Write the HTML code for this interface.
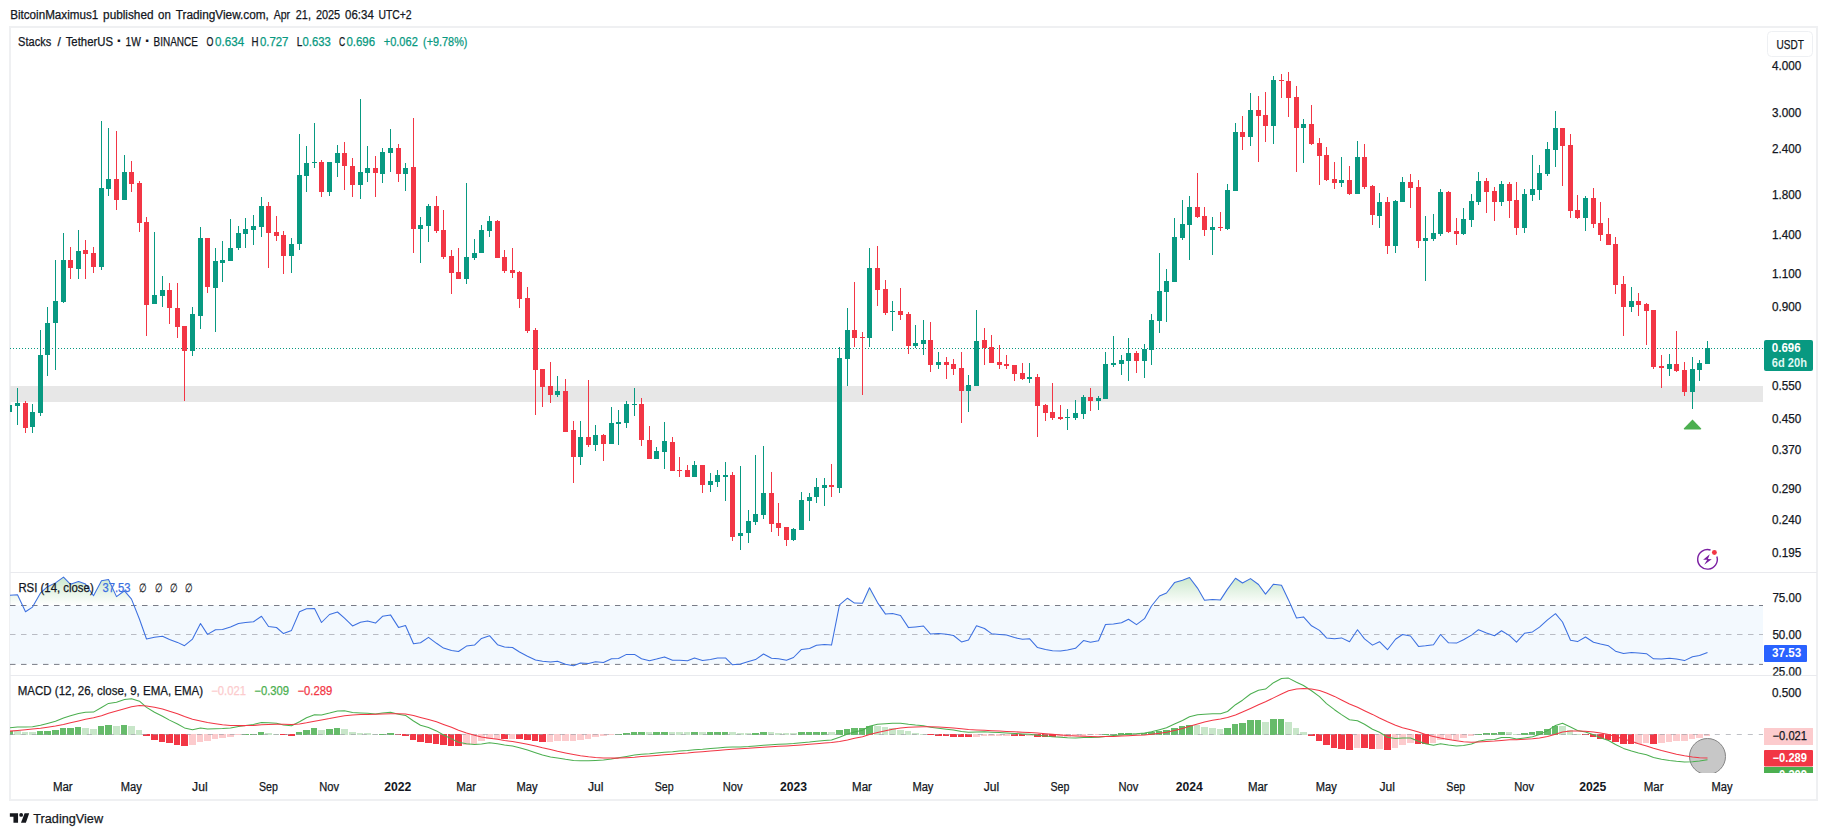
<!DOCTYPE html>
<html lang="en"><head><meta charset="utf-8"><title>STXUSDT chart</title>
<style>html,body{margin:0;padding:0;background:#fff}body{width:1827px;height:836px;overflow:hidden}</style></head>
<body>
<svg width="1827" height="836" viewBox="0 0 1827 836" style="display:block;font-family:'Liberation Sans', sans-serif">
<defs>
<linearGradient id="gob" gradientUnits="userSpaceOnUse" x1="0" y1="561.4" x2="0" y2="605.5"><stop offset="0" stop-color="#4caf50" stop-opacity="0.45"/><stop offset="1" stop-color="#4caf50" stop-opacity="0"/></linearGradient>
<linearGradient id="gos" gradientUnits="userSpaceOnUse" x1="0" y1="664.3" x2="0" y2="708.4"><stop offset="0" stop-color="#f23645" stop-opacity="0"/><stop offset="1" stop-color="#f23645" stop-opacity="0.55"/></linearGradient>
<clipPath id="cpMain"><rect x="10" y="28" width="1754" height="544"/></clipPath>
<clipPath id="cpRsi"><rect x="10" y="573" width="1754" height="102"/></clipPath>
<clipPath id="cpRsiAx"><rect x="1764" y="573" width="53" height="102.4"/></clipPath>
<clipPath id="cpMacd"><rect x="10" y="676" width="1807" height="97"/></clipPath>
</defs>
<rect width="1827" height="836" fill="#fff"/>
<rect x="10" y="27" width="1807" height="773" fill="#fff" stroke="#eff0f2" stroke-width="2"/>
<text font-size="12" fill="#131722" id="hdr"><tspan x="10.2" y="18.5" textLength="88.0" lengthAdjust="spacingAndGlyphs" stroke="#131722" stroke-width="0.25">BitcoinMaximus1</tspan> <tspan x="103.1" y="18.5" textLength="50.4" lengthAdjust="spacingAndGlyphs" stroke="#131722" stroke-width="0.25">published</tspan> <tspan x="158.0" y="18.5" textLength="12.8" lengthAdjust="spacingAndGlyphs" stroke="#131722" stroke-width="0.25">on</tspan> <tspan x="175.7" y="18.5" textLength="93.2" lengthAdjust="spacingAndGlyphs" stroke="#131722" stroke-width="0.25">TradingView.com,</tspan> <tspan x="273.7" y="18.5" textLength="16.4" lengthAdjust="spacingAndGlyphs" stroke="#131722" stroke-width="0.25">Apr</tspan> <tspan x="295.8" y="18.5" textLength="15.1" lengthAdjust="spacingAndGlyphs" stroke="#131722" stroke-width="0.25">21,</tspan> <tspan x="315.9" y="18.5" textLength="24.3" lengthAdjust="spacingAndGlyphs" stroke="#131722" stroke-width="0.25">2025</tspan> <tspan x="345.1" y="18.5" textLength="28.7" lengthAdjust="spacingAndGlyphs" stroke="#131722" stroke-width="0.25">06:34</tspan> <tspan x="378.4" y="18.5" textLength="33.2" lengthAdjust="spacingAndGlyphs" stroke="#131722" stroke-width="0.25">UTC+2</tspan></text>
<g shape-rendering="crispEdges">
<rect x="10" y="386" width="1753" height="16" fill="#e7e7e7"/>
</g>
<line x1="10" y1="348.5" x2="1764" y2="348.5" stroke="#089981" stroke-width="1" stroke-dasharray="1 2"/>
<g shape-rendering="crispEdges" clip-path="url(#cpMain)">
<rect x="9" y="405" width="1" height="7" fill="#089981"/>
<rect x="7" y="405" width="5" height="7" fill="#089981"/>
<rect x="17" y="388" width="1" height="37" fill="#089981"/>
<rect x="15" y="403" width="5" height="3" fill="#089981"/>
<rect x="25" y="401" width="1" height="32" fill="#f23645"/>
<rect x="23" y="403" width="5" height="25" fill="#f23645"/>
<rect x="32" y="404" width="1" height="29" fill="#089981"/>
<rect x="30" y="412" width="5" height="15" fill="#089981"/>
<rect x="40" y="330" width="1" height="86" fill="#089981"/>
<rect x="38" y="355" width="5" height="58" fill="#089981"/>
<rect x="47" y="307" width="1" height="69" fill="#089981"/>
<rect x="45" y="323" width="5" height="32" fill="#089981"/>
<rect x="55" y="260" width="1" height="110" fill="#089981"/>
<rect x="53" y="301" width="5" height="22" fill="#089981"/>
<rect x="63" y="233" width="1" height="70" fill="#089981"/>
<rect x="61" y="260" width="5" height="42" fill="#089981"/>
<rect x="70" y="247" width="1" height="32" fill="#f23645"/>
<rect x="68" y="260" width="5" height="8" fill="#f23645"/>
<rect x="78" y="230" width="1" height="49" fill="#089981"/>
<rect x="76" y="251" width="5" height="18" fill="#089981"/>
<rect x="85" y="240" width="1" height="39" fill="#f23645"/>
<rect x="83" y="250" width="5" height="4" fill="#f23645"/>
<rect x="93" y="247" width="1" height="26" fill="#f23645"/>
<rect x="91" y="253" width="5" height="14" fill="#f23645"/>
<rect x="101" y="121" width="1" height="149" fill="#089981"/>
<rect x="99" y="188" width="5" height="79" fill="#089981"/>
<rect x="108" y="128" width="1" height="68" fill="#089981"/>
<rect x="106" y="179" width="5" height="10" fill="#089981"/>
<rect x="116" y="131" width="1" height="79" fill="#f23645"/>
<rect x="114" y="179" width="5" height="21" fill="#f23645"/>
<rect x="124" y="155" width="1" height="45" fill="#089981"/>
<rect x="122" y="172" width="5" height="28" fill="#089981"/>
<rect x="131" y="161" width="1" height="31" fill="#f23645"/>
<rect x="129" y="172" width="5" height="12" fill="#f23645"/>
<rect x="139" y="181" width="1" height="51" fill="#f23645"/>
<rect x="137" y="183" width="5" height="40" fill="#f23645"/>
<rect x="146" y="217" width="1" height="119" fill="#f23645"/>
<rect x="144" y="222" width="5" height="83" fill="#f23645"/>
<rect x="154" y="232" width="1" height="72" fill="#089981"/>
<rect x="152" y="295" width="5" height="9" fill="#089981"/>
<rect x="162" y="276" width="1" height="31" fill="#089981"/>
<rect x="160" y="290" width="5" height="6" fill="#089981"/>
<rect x="169" y="283" width="1" height="41" fill="#f23645"/>
<rect x="167" y="290" width="5" height="18" fill="#f23645"/>
<rect x="177" y="283" width="1" height="55" fill="#f23645"/>
<rect x="175" y="308" width="5" height="19" fill="#f23645"/>
<rect x="184" y="326" width="1" height="75" fill="#f23645"/>
<rect x="182" y="326" width="5" height="25" fill="#f23645"/>
<rect x="192" y="307" width="1" height="49" fill="#089981"/>
<rect x="190" y="314" width="5" height="37" fill="#089981"/>
<rect x="200" y="227" width="1" height="102" fill="#089981"/>
<rect x="198" y="238" width="5" height="78" fill="#089981"/>
<rect x="207" y="238" width="1" height="55" fill="#f23645"/>
<rect x="205" y="238" width="5" height="49" fill="#f23645"/>
<rect x="215" y="248" width="1" height="84" fill="#089981"/>
<rect x="213" y="261" width="5" height="27" fill="#089981"/>
<rect x="222" y="241" width="1" height="41" fill="#089981"/>
<rect x="220" y="260" width="5" height="3" fill="#089981"/>
<rect x="230" y="219" width="1" height="42" fill="#089981"/>
<rect x="228" y="248" width="5" height="13" fill="#089981"/>
<rect x="238" y="226" width="1" height="24" fill="#089981"/>
<rect x="236" y="233" width="5" height="15" fill="#089981"/>
<rect x="245" y="218" width="1" height="30" fill="#089981"/>
<rect x="243" y="229" width="5" height="5" fill="#089981"/>
<rect x="253" y="215" width="1" height="30" fill="#089981"/>
<rect x="251" y="226" width="5" height="4" fill="#089981"/>
<rect x="261" y="197" width="1" height="40" fill="#089981"/>
<rect x="259" y="206" width="5" height="21" fill="#089981"/>
<rect x="268" y="202" width="1" height="66" fill="#f23645"/>
<rect x="266" y="206" width="5" height="27" fill="#f23645"/>
<rect x="276" y="216" width="1" height="25" fill="#f23645"/>
<rect x="274" y="232" width="5" height="4" fill="#f23645"/>
<rect x="283" y="231" width="1" height="43" fill="#f23645"/>
<rect x="281" y="235" width="5" height="21" fill="#f23645"/>
<rect x="291" y="238" width="1" height="35" fill="#089981"/>
<rect x="289" y="244" width="5" height="12" fill="#089981"/>
<rect x="299" y="134" width="1" height="116" fill="#089981"/>
<rect x="297" y="175" width="5" height="69" fill="#089981"/>
<rect x="306" y="146" width="1" height="46" fill="#089981"/>
<rect x="304" y="163" width="5" height="13" fill="#089981"/>
<rect x="314" y="123" width="1" height="45" fill="#089981"/>
<rect x="312" y="162" width="5" height="1" fill="#089981"/>
<rect x="321" y="160" width="1" height="37" fill="#f23645"/>
<rect x="319" y="162" width="5" height="30" fill="#f23645"/>
<rect x="329" y="162" width="1" height="34" fill="#089981"/>
<rect x="327" y="162" width="5" height="30" fill="#089981"/>
<rect x="337" y="145" width="1" height="32" fill="#089981"/>
<rect x="335" y="153" width="5" height="10" fill="#089981"/>
<rect x="344" y="142" width="1" height="48" fill="#f23645"/>
<rect x="342" y="153" width="5" height="13" fill="#f23645"/>
<rect x="352" y="158" width="1" height="39" fill="#f23645"/>
<rect x="350" y="166" width="5" height="19" fill="#f23645"/>
<rect x="360" y="99" width="1" height="100" fill="#089981"/>
<rect x="358" y="172" width="5" height="13" fill="#089981"/>
<rect x="367" y="146" width="1" height="36" fill="#089981"/>
<rect x="365" y="168" width="5" height="5" fill="#089981"/>
<rect x="375" y="156" width="1" height="41" fill="#f23645"/>
<rect x="373" y="168" width="5" height="5" fill="#f23645"/>
<rect x="382" y="148" width="1" height="35" fill="#089981"/>
<rect x="380" y="152" width="5" height="22" fill="#089981"/>
<rect x="390" y="129" width="1" height="43" fill="#089981"/>
<rect x="388" y="148" width="5" height="5" fill="#089981"/>
<rect x="398" y="144" width="1" height="38" fill="#f23645"/>
<rect x="396" y="148" width="5" height="26" fill="#f23645"/>
<rect x="405" y="163" width="1" height="28" fill="#089981"/>
<rect x="403" y="168" width="5" height="6" fill="#089981"/>
<rect x="413" y="118" width="1" height="135" fill="#f23645"/>
<rect x="411" y="167" width="5" height="62" fill="#f23645"/>
<rect x="420" y="217" width="1" height="46" fill="#089981"/>
<rect x="418" y="225" width="5" height="4" fill="#089981"/>
<rect x="428" y="204" width="1" height="38" fill="#089981"/>
<rect x="426" y="206" width="5" height="20" fill="#089981"/>
<rect x="436" y="196" width="1" height="37" fill="#f23645"/>
<rect x="434" y="206" width="5" height="25" fill="#f23645"/>
<rect x="443" y="210" width="1" height="49" fill="#f23645"/>
<rect x="441" y="230" width="5" height="27" fill="#f23645"/>
<rect x="451" y="250" width="1" height="44" fill="#f23645"/>
<rect x="449" y="256" width="5" height="17" fill="#f23645"/>
<rect x="458" y="248" width="1" height="31" fill="#f23645"/>
<rect x="456" y="272" width="5" height="7" fill="#f23645"/>
<rect x="466" y="183" width="1" height="101" fill="#089981"/>
<rect x="464" y="257" width="5" height="22" fill="#089981"/>
<rect x="474" y="239" width="1" height="21" fill="#089981"/>
<rect x="472" y="253" width="5" height="5" fill="#089981"/>
<rect x="481" y="225" width="1" height="28" fill="#089981"/>
<rect x="479" y="230" width="5" height="23" fill="#089981"/>
<rect x="489" y="216" width="1" height="21" fill="#089981"/>
<rect x="487" y="221" width="5" height="10" fill="#089981"/>
<rect x="497" y="220" width="1" height="38" fill="#f23645"/>
<rect x="495" y="221" width="5" height="37" fill="#f23645"/>
<rect x="504" y="250" width="1" height="23" fill="#f23645"/>
<rect x="502" y="257" width="5" height="14" fill="#f23645"/>
<rect x="512" y="248" width="1" height="30" fill="#f23645"/>
<rect x="510" y="270" width="5" height="3" fill="#f23645"/>
<rect x="519" y="271" width="1" height="37" fill="#f23645"/>
<rect x="517" y="272" width="5" height="27" fill="#f23645"/>
<rect x="527" y="287" width="1" height="46" fill="#f23645"/>
<rect x="525" y="298" width="5" height="33" fill="#f23645"/>
<rect x="535" y="328" width="1" height="87" fill="#f23645"/>
<rect x="533" y="330" width="5" height="40" fill="#f23645"/>
<rect x="542" y="369" width="1" height="38" fill="#f23645"/>
<rect x="540" y="369" width="5" height="18" fill="#f23645"/>
<rect x="550" y="362" width="1" height="41" fill="#f23645"/>
<rect x="548" y="386" width="5" height="9" fill="#f23645"/>
<rect x="557" y="376" width="1" height="21" fill="#089981"/>
<rect x="555" y="391" width="5" height="4" fill="#089981"/>
<rect x="565" y="379" width="1" height="53" fill="#f23645"/>
<rect x="563" y="391" width="5" height="41" fill="#f23645"/>
<rect x="573" y="421" width="1" height="62" fill="#f23645"/>
<rect x="571" y="430" width="5" height="27" fill="#f23645"/>
<rect x="580" y="421" width="1" height="44" fill="#089981"/>
<rect x="578" y="437" width="5" height="20" fill="#089981"/>
<rect x="588" y="380" width="1" height="67" fill="#f23645"/>
<rect x="586" y="437" width="5" height="8" fill="#f23645"/>
<rect x="595" y="425" width="1" height="26" fill="#089981"/>
<rect x="593" y="435" width="5" height="10" fill="#089981"/>
<rect x="603" y="434" width="1" height="27" fill="#f23645"/>
<rect x="601" y="435" width="5" height="9" fill="#f23645"/>
<rect x="611" y="407" width="1" height="37" fill="#089981"/>
<rect x="609" y="423" width="5" height="21" fill="#089981"/>
<rect x="618" y="410" width="1" height="35" fill="#089981"/>
<rect x="616" y="422" width="5" height="2" fill="#089981"/>
<rect x="626" y="401" width="1" height="27" fill="#089981"/>
<rect x="624" y="404" width="5" height="19" fill="#089981"/>
<rect x="634" y="388" width="1" height="28" fill="#089981"/>
<rect x="632" y="404" width="5" height="1" fill="#089981"/>
<rect x="641" y="398" width="1" height="48" fill="#f23645"/>
<rect x="639" y="404" width="5" height="36" fill="#f23645"/>
<rect x="649" y="426" width="1" height="33" fill="#f23645"/>
<rect x="647" y="440" width="5" height="19" fill="#f23645"/>
<rect x="656" y="447" width="1" height="12" fill="#089981"/>
<rect x="654" y="451" width="5" height="8" fill="#089981"/>
<rect x="664" y="422" width="1" height="47" fill="#089981"/>
<rect x="662" y="441" width="5" height="11" fill="#089981"/>
<rect x="672" y="437" width="1" height="34" fill="#f23645"/>
<rect x="670" y="442" width="5" height="29" fill="#f23645"/>
<rect x="679" y="457" width="1" height="20" fill="#f23645"/>
<rect x="677" y="470" width="5" height="1" fill="#f23645"/>
<rect x="687" y="465" width="1" height="12" fill="#f23645"/>
<rect x="685" y="470" width="5" height="7" fill="#f23645"/>
<rect x="694" y="461" width="1" height="16" fill="#089981"/>
<rect x="692" y="465" width="5" height="12" fill="#089981"/>
<rect x="702" y="465" width="1" height="28" fill="#f23645"/>
<rect x="700" y="465" width="5" height="20" fill="#f23645"/>
<rect x="710" y="473" width="1" height="19" fill="#089981"/>
<rect x="708" y="481" width="5" height="4" fill="#089981"/>
<rect x="717" y="470" width="1" height="17" fill="#089981"/>
<rect x="715" y="475" width="5" height="7" fill="#089981"/>
<rect x="725" y="462" width="1" height="39" fill="#089981"/>
<rect x="723" y="475" width="5" height="2" fill="#089981"/>
<rect x="732" y="472" width="1" height="69" fill="#f23645"/>
<rect x="730" y="475" width="5" height="62" fill="#f23645"/>
<rect x="740" y="466" width="1" height="84" fill="#089981"/>
<rect x="738" y="533" width="5" height="3" fill="#089981"/>
<rect x="748" y="510" width="1" height="33" fill="#089981"/>
<rect x="746" y="521" width="5" height="12" fill="#089981"/>
<rect x="755" y="455" width="1" height="70" fill="#089981"/>
<rect x="753" y="514" width="5" height="8" fill="#089981"/>
<rect x="763" y="446" width="1" height="73" fill="#089981"/>
<rect x="761" y="493" width="5" height="22" fill="#089981"/>
<rect x="771" y="472" width="1" height="60" fill="#f23645"/>
<rect x="769" y="493" width="5" height="31" fill="#f23645"/>
<rect x="778" y="503" width="1" height="33" fill="#f23645"/>
<rect x="776" y="523" width="5" height="5" fill="#f23645"/>
<rect x="786" y="527" width="1" height="19" fill="#f23645"/>
<rect x="784" y="527" width="5" height="13" fill="#f23645"/>
<rect x="793" y="528" width="1" height="13" fill="#089981"/>
<rect x="791" y="529" width="5" height="11" fill="#089981"/>
<rect x="801" y="492" width="1" height="38" fill="#089981"/>
<rect x="799" y="500" width="5" height="30" fill="#089981"/>
<rect x="809" y="493" width="1" height="28" fill="#089981"/>
<rect x="807" y="497" width="5" height="4" fill="#089981"/>
<rect x="816" y="478" width="1" height="25" fill="#089981"/>
<rect x="814" y="487" width="5" height="10" fill="#089981"/>
<rect x="824" y="478" width="1" height="28" fill="#089981"/>
<rect x="822" y="485" width="5" height="3" fill="#089981"/>
<rect x="831" y="464" width="1" height="33" fill="#f23645"/>
<rect x="829" y="485" width="5" height="2" fill="#f23645"/>
<rect x="839" y="347" width="1" height="146" fill="#089981"/>
<rect x="837" y="358" width="5" height="130" fill="#089981"/>
<rect x="847" y="308" width="1" height="78" fill="#089981"/>
<rect x="845" y="330" width="5" height="29" fill="#089981"/>
<rect x="854" y="282" width="1" height="65" fill="#f23645"/>
<rect x="852" y="330" width="5" height="8" fill="#f23645"/>
<rect x="862" y="332" width="1" height="63" fill="#f23645"/>
<rect x="860" y="337" width="5" height="1" fill="#f23645"/>
<rect x="869" y="248" width="1" height="99" fill="#089981"/>
<rect x="867" y="268" width="5" height="70" fill="#089981"/>
<rect x="877" y="246" width="1" height="60" fill="#f23645"/>
<rect x="875" y="268" width="5" height="22" fill="#f23645"/>
<rect x="885" y="280" width="1" height="35" fill="#f23645"/>
<rect x="883" y="289" width="5" height="24" fill="#f23645"/>
<rect x="892" y="301" width="1" height="30" fill="#089981"/>
<rect x="890" y="311" width="5" height="1" fill="#089981"/>
<rect x="900" y="288" width="1" height="32" fill="#f23645"/>
<rect x="898" y="311" width="5" height="4" fill="#f23645"/>
<rect x="908" y="312" width="1" height="42" fill="#f23645"/>
<rect x="906" y="314" width="5" height="32" fill="#f23645"/>
<rect x="915" y="325" width="1" height="23" fill="#089981"/>
<rect x="913" y="343" width="5" height="3" fill="#089981"/>
<rect x="923" y="320" width="1" height="35" fill="#089981"/>
<rect x="921" y="340" width="5" height="4" fill="#089981"/>
<rect x="930" y="322" width="1" height="50" fill="#f23645"/>
<rect x="928" y="340" width="5" height="25" fill="#f23645"/>
<rect x="938" y="352" width="1" height="17" fill="#089981"/>
<rect x="936" y="362" width="5" height="3" fill="#089981"/>
<rect x="946" y="357" width="1" height="22" fill="#f23645"/>
<rect x="944" y="362" width="5" height="3" fill="#f23645"/>
<rect x="953" y="359" width="1" height="16" fill="#f23645"/>
<rect x="951" y="364" width="5" height="5" fill="#f23645"/>
<rect x="961" y="352" width="1" height="71" fill="#f23645"/>
<rect x="959" y="368" width="5" height="23" fill="#f23645"/>
<rect x="968" y="375" width="1" height="37" fill="#089981"/>
<rect x="966" y="385" width="5" height="6" fill="#089981"/>
<rect x="976" y="310" width="1" height="76" fill="#089981"/>
<rect x="974" y="341" width="5" height="45" fill="#089981"/>
<rect x="984" y="328" width="1" height="37" fill="#f23645"/>
<rect x="982" y="340" width="5" height="8" fill="#f23645"/>
<rect x="991" y="335" width="1" height="28" fill="#f23645"/>
<rect x="989" y="347" width="5" height="16" fill="#f23645"/>
<rect x="999" y="345" width="1" height="24" fill="#f23645"/>
<rect x="997" y="362" width="5" height="3" fill="#f23645"/>
<rect x="1006" y="355" width="1" height="14" fill="#f23645"/>
<rect x="1004" y="364" width="5" height="2" fill="#f23645"/>
<rect x="1014" y="365" width="1" height="16" fill="#f23645"/>
<rect x="1012" y="365" width="5" height="9" fill="#f23645"/>
<rect x="1022" y="363" width="1" height="17" fill="#f23645"/>
<rect x="1020" y="373" width="5" height="6" fill="#f23645"/>
<rect x="1029" y="363" width="1" height="20" fill="#089981"/>
<rect x="1027" y="377" width="5" height="2" fill="#089981"/>
<rect x="1037" y="374" width="1" height="63" fill="#f23645"/>
<rect x="1035" y="377" width="5" height="29" fill="#f23645"/>
<rect x="1045" y="404" width="1" height="17" fill="#f23645"/>
<rect x="1043" y="405" width="5" height="8" fill="#f23645"/>
<rect x="1052" y="383" width="1" height="37" fill="#f23645"/>
<rect x="1050" y="412" width="5" height="6" fill="#f23645"/>
<rect x="1060" y="405" width="1" height="15" fill="#f23645"/>
<rect x="1058" y="417" width="5" height="2" fill="#f23645"/>
<rect x="1067" y="409" width="1" height="21" fill="#089981"/>
<rect x="1065" y="417" width="5" height="1" fill="#089981"/>
<rect x="1075" y="400" width="1" height="20" fill="#089981"/>
<rect x="1073" y="413" width="5" height="5" fill="#089981"/>
<rect x="1083" y="395" width="1" height="24" fill="#089981"/>
<rect x="1081" y="397" width="5" height="17" fill="#089981"/>
<rect x="1090" y="388" width="1" height="23" fill="#f23645"/>
<rect x="1088" y="397" width="5" height="4" fill="#f23645"/>
<rect x="1098" y="396" width="1" height="14" fill="#089981"/>
<rect x="1096" y="398" width="5" height="3" fill="#089981"/>
<rect x="1105" y="352" width="1" height="47" fill="#089981"/>
<rect x="1103" y="364" width="5" height="35" fill="#089981"/>
<rect x="1113" y="336" width="1" height="31" fill="#089981"/>
<rect x="1111" y="363" width="5" height="2" fill="#089981"/>
<rect x="1121" y="355" width="1" height="20" fill="#089981"/>
<rect x="1119" y="360" width="5" height="4" fill="#089981"/>
<rect x="1128" y="338" width="1" height="43" fill="#089981"/>
<rect x="1126" y="353" width="5" height="8" fill="#089981"/>
<rect x="1136" y="351" width="1" height="22" fill="#f23645"/>
<rect x="1134" y="353" width="5" height="8" fill="#f23645"/>
<rect x="1144" y="344" width="1" height="34" fill="#089981"/>
<rect x="1142" y="349" width="5" height="12" fill="#089981"/>
<rect x="1151" y="314" width="1" height="51" fill="#089981"/>
<rect x="1149" y="320" width="5" height="30" fill="#089981"/>
<rect x="1159" y="253" width="1" height="80" fill="#089981"/>
<rect x="1157" y="291" width="5" height="30" fill="#089981"/>
<rect x="1166" y="269" width="1" height="53" fill="#089981"/>
<rect x="1164" y="281" width="5" height="11" fill="#089981"/>
<rect x="1174" y="218" width="1" height="64" fill="#089981"/>
<rect x="1172" y="237" width="5" height="45" fill="#089981"/>
<rect x="1182" y="200" width="1" height="40" fill="#089981"/>
<rect x="1180" y="224" width="5" height="14" fill="#089981"/>
<rect x="1189" y="196" width="1" height="64" fill="#089981"/>
<rect x="1187" y="207" width="5" height="18" fill="#089981"/>
<rect x="1197" y="173" width="1" height="45" fill="#f23645"/>
<rect x="1195" y="207" width="5" height="10" fill="#f23645"/>
<rect x="1204" y="207" width="1" height="29" fill="#f23645"/>
<rect x="1202" y="216" width="5" height="14" fill="#f23645"/>
<rect x="1212" y="217" width="1" height="38" fill="#089981"/>
<rect x="1210" y="227" width="5" height="3" fill="#089981"/>
<rect x="1220" y="212" width="1" height="19" fill="#f23645"/>
<rect x="1218" y="227" width="5" height="1" fill="#f23645"/>
<rect x="1227" y="184" width="1" height="46" fill="#089981"/>
<rect x="1225" y="190" width="5" height="39" fill="#089981"/>
<rect x="1235" y="123" width="1" height="68" fill="#089981"/>
<rect x="1233" y="132" width="5" height="59" fill="#089981"/>
<rect x="1242" y="116" width="1" height="34" fill="#f23645"/>
<rect x="1240" y="132" width="5" height="5" fill="#f23645"/>
<rect x="1250" y="93" width="1" height="53" fill="#089981"/>
<rect x="1248" y="110" width="5" height="27" fill="#089981"/>
<rect x="1258" y="96" width="1" height="66" fill="#f23645"/>
<rect x="1256" y="110" width="5" height="6" fill="#f23645"/>
<rect x="1265" y="92" width="1" height="50" fill="#f23645"/>
<rect x="1263" y="115" width="5" height="11" fill="#f23645"/>
<rect x="1273" y="76" width="1" height="68" fill="#089981"/>
<rect x="1271" y="80" width="5" height="46" fill="#089981"/>
<rect x="1281" y="74" width="1" height="24" fill="#f23645"/>
<rect x="1279" y="80" width="5" height="1" fill="#f23645"/>
<rect x="1288" y="72" width="1" height="45" fill="#f23645"/>
<rect x="1286" y="81" width="5" height="17" fill="#f23645"/>
<rect x="1296" y="86" width="1" height="86" fill="#f23645"/>
<rect x="1294" y="97" width="5" height="31" fill="#f23645"/>
<rect x="1303" y="119" width="1" height="44" fill="#089981"/>
<rect x="1301" y="124" width="5" height="4" fill="#089981"/>
<rect x="1311" y="105" width="1" height="40" fill="#f23645"/>
<rect x="1309" y="124" width="5" height="20" fill="#f23645"/>
<rect x="1319" y="138" width="1" height="47" fill="#f23645"/>
<rect x="1317" y="143" width="5" height="13" fill="#f23645"/>
<rect x="1326" y="147" width="1" height="34" fill="#f23645"/>
<rect x="1324" y="155" width="5" height="25" fill="#f23645"/>
<rect x="1334" y="162" width="1" height="27" fill="#f23645"/>
<rect x="1332" y="179" width="5" height="4" fill="#f23645"/>
<rect x="1341" y="157" width="1" height="30" fill="#089981"/>
<rect x="1339" y="180" width="5" height="3" fill="#089981"/>
<rect x="1349" y="166" width="1" height="29" fill="#f23645"/>
<rect x="1347" y="180" width="5" height="14" fill="#f23645"/>
<rect x="1357" y="141" width="1" height="53" fill="#089981"/>
<rect x="1355" y="157" width="5" height="37" fill="#089981"/>
<rect x="1364" y="144" width="1" height="45" fill="#f23645"/>
<rect x="1362" y="157" width="5" height="30" fill="#f23645"/>
<rect x="1372" y="185" width="1" height="40" fill="#f23645"/>
<rect x="1370" y="186" width="5" height="29" fill="#f23645"/>
<rect x="1379" y="193" width="1" height="35" fill="#089981"/>
<rect x="1377" y="202" width="5" height="14" fill="#089981"/>
<rect x="1387" y="197" width="1" height="57" fill="#f23645"/>
<rect x="1385" y="202" width="5" height="44" fill="#f23645"/>
<rect x="1395" y="200" width="1" height="53" fill="#089981"/>
<rect x="1393" y="201" width="5" height="45" fill="#089981"/>
<rect x="1402" y="177" width="1" height="25" fill="#089981"/>
<rect x="1400" y="182" width="5" height="20" fill="#089981"/>
<rect x="1410" y="174" width="1" height="34" fill="#f23645"/>
<rect x="1408" y="182" width="5" height="6" fill="#f23645"/>
<rect x="1418" y="180" width="1" height="68" fill="#f23645"/>
<rect x="1416" y="187" width="5" height="54" fill="#f23645"/>
<rect x="1425" y="216" width="1" height="65" fill="#089981"/>
<rect x="1423" y="238" width="5" height="3" fill="#089981"/>
<rect x="1433" y="214" width="1" height="27" fill="#089981"/>
<rect x="1431" y="233" width="5" height="6" fill="#089981"/>
<rect x="1440" y="189" width="1" height="47" fill="#089981"/>
<rect x="1438" y="192" width="5" height="42" fill="#089981"/>
<rect x="1448" y="191" width="1" height="42" fill="#f23645"/>
<rect x="1446" y="192" width="5" height="40" fill="#f23645"/>
<rect x="1456" y="218" width="1" height="27" fill="#f23645"/>
<rect x="1454" y="231" width="5" height="3" fill="#f23645"/>
<rect x="1463" y="208" width="1" height="27" fill="#089981"/>
<rect x="1461" y="219" width="5" height="15" fill="#089981"/>
<rect x="1471" y="194" width="1" height="33" fill="#089981"/>
<rect x="1469" y="201" width="5" height="19" fill="#089981"/>
<rect x="1478" y="172" width="1" height="33" fill="#089981"/>
<rect x="1476" y="181" width="5" height="21" fill="#089981"/>
<rect x="1486" y="178" width="1" height="35" fill="#f23645"/>
<rect x="1484" y="181" width="5" height="11" fill="#f23645"/>
<rect x="1494" y="187" width="1" height="34" fill="#f23645"/>
<rect x="1492" y="191" width="5" height="11" fill="#f23645"/>
<rect x="1501" y="181" width="1" height="25" fill="#089981"/>
<rect x="1499" y="184" width="5" height="18" fill="#089981"/>
<rect x="1509" y="182" width="1" height="36" fill="#f23645"/>
<rect x="1507" y="184" width="5" height="17" fill="#f23645"/>
<rect x="1516" y="182" width="1" height="53" fill="#f23645"/>
<rect x="1514" y="200" width="5" height="28" fill="#f23645"/>
<rect x="1524" y="189" width="1" height="44" fill="#089981"/>
<rect x="1522" y="194" width="5" height="34" fill="#089981"/>
<rect x="1532" y="155" width="1" height="46" fill="#089981"/>
<rect x="1530" y="189" width="5" height="6" fill="#089981"/>
<rect x="1539" y="165" width="1" height="35" fill="#089981"/>
<rect x="1537" y="173" width="5" height="17" fill="#089981"/>
<rect x="1547" y="142" width="1" height="34" fill="#089981"/>
<rect x="1545" y="149" width="5" height="25" fill="#089981"/>
<rect x="1555" y="111" width="1" height="56" fill="#089981"/>
<rect x="1553" y="128" width="5" height="22" fill="#089981"/>
<rect x="1562" y="128" width="1" height="58" fill="#f23645"/>
<rect x="1560" y="128" width="5" height="18" fill="#f23645"/>
<rect x="1570" y="134" width="1" height="84" fill="#f23645"/>
<rect x="1568" y="145" width="5" height="66" fill="#f23645"/>
<rect x="1577" y="195" width="1" height="24" fill="#f23645"/>
<rect x="1575" y="210" width="5" height="8" fill="#f23645"/>
<rect x="1585" y="196" width="1" height="35" fill="#089981"/>
<rect x="1583" y="198" width="5" height="20" fill="#089981"/>
<rect x="1593" y="188" width="1" height="40" fill="#f23645"/>
<rect x="1591" y="198" width="5" height="26" fill="#f23645"/>
<rect x="1600" y="202" width="1" height="39" fill="#f23645"/>
<rect x="1598" y="223" width="5" height="12" fill="#f23645"/>
<rect x="1608" y="218" width="1" height="27" fill="#f23645"/>
<rect x="1606" y="234" width="5" height="11" fill="#f23645"/>
<rect x="1615" y="237" width="1" height="57" fill="#f23645"/>
<rect x="1613" y="244" width="5" height="41" fill="#f23645"/>
<rect x="1623" y="276" width="1" height="60" fill="#f23645"/>
<rect x="1621" y="284" width="5" height="23" fill="#f23645"/>
<rect x="1631" y="287" width="1" height="25" fill="#089981"/>
<rect x="1629" y="301" width="5" height="6" fill="#089981"/>
<rect x="1638" y="293" width="1" height="23" fill="#f23645"/>
<rect x="1636" y="301" width="5" height="4" fill="#f23645"/>
<rect x="1646" y="303" width="1" height="42" fill="#f23645"/>
<rect x="1644" y="304" width="5" height="7" fill="#f23645"/>
<rect x="1653" y="310" width="1" height="59" fill="#f23645"/>
<rect x="1651" y="310" width="5" height="57" fill="#f23645"/>
<rect x="1661" y="355" width="1" height="33" fill="#f23645"/>
<rect x="1659" y="366" width="5" height="2" fill="#f23645"/>
<rect x="1669" y="354" width="1" height="22" fill="#089981"/>
<rect x="1667" y="364" width="5" height="5" fill="#089981"/>
<rect x="1676" y="331" width="1" height="41" fill="#f23645"/>
<rect x="1674" y="364" width="5" height="7" fill="#f23645"/>
<rect x="1684" y="362" width="1" height="34" fill="#f23645"/>
<rect x="1682" y="370" width="5" height="22" fill="#f23645"/>
<rect x="1692" y="357" width="1" height="52" fill="#089981"/>
<rect x="1690" y="369" width="5" height="23" fill="#089981"/>
<rect x="1699" y="360" width="1" height="21" fill="#089981"/>
<rect x="1697" y="363" width="5" height="7" fill="#089981"/>
<rect x="1707" y="341" width="1" height="23" fill="#089981"/>
<rect x="1705" y="348" width="5" height="16" fill="#089981"/>
</g>
<path d="M1692.5 419.6 L1701.2 428.6 Q1701.6 429.4 1700.6 429.4 L1684.4 429.4 Q1683.4 429.4 1683.8 428.6 Z" fill="#4caf50"/>
<path d="M1710.53 550.03 A9.8 9.8 0 1 0 1716.87 556.48" fill="none" stroke="#7b1fa2" stroke-width="1.4"/>
<path d="M1709.74 554.34 L1703.1 559.72 L1707.23 559.79 L1704.18 564.82 L1711.72 559.25 L1707.95 559.08 Z" fill="#7b1fa2"/>
<circle cx="1714.4" cy="552.55" r="2.45" fill="#f23645"/>
<text font-size="12" fill="#131722" id="leg"><tspan x="18.1" y="45.6" textLength="33.1" lengthAdjust="spacingAndGlyphs" stroke="#131722" stroke-width="0.25">Stacks</tspan> <tspan x="57.4" y="45.6" stroke="#131722" stroke-width="0.25">/</tspan> <tspan x="65.7" y="45.6" textLength="47.3" lengthAdjust="spacingAndGlyphs" stroke="#131722" stroke-width="0.25">TetherUS</tspan> <tspan x="116.4" y="46.4" font-size="17" font-weight="bold">·</tspan> <tspan x="125.6" y="45.6" textLength="15.3" lengthAdjust="spacingAndGlyphs" stroke="#131722" stroke-width="0.25">1W</tspan> <tspan x="144.7" y="46.4" font-size="17" font-weight="bold">·</tspan> <tspan x="153.5" y="45.6" textLength="44.4" lengthAdjust="spacingAndGlyphs" stroke="#131722" stroke-width="0.25">BINANCE</tspan> <tspan x="206.6" y="45.6" textLength="6.9" lengthAdjust="spacingAndGlyphs" stroke="#131722" stroke-width="0.25">O</tspan> <tspan x="215.1" y="45.6" textLength="29.1" lengthAdjust="spacingAndGlyphs" stroke="#089981" stroke-width="0.25" fill="#089981">0.634</tspan> <tspan x="251.6" y="45.6" textLength="7.0" lengthAdjust="spacingAndGlyphs" stroke="#131722" stroke-width="0.25">H</tspan> <tspan x="259.9" y="45.6" textLength="28.5" lengthAdjust="spacingAndGlyphs" stroke="#089981" stroke-width="0.25" fill="#089981">0.727</tspan> <tspan x="296.7" y="45.6" textLength="5.2" lengthAdjust="spacingAndGlyphs" stroke="#131722" stroke-width="0.25">L</tspan> <tspan x="302.6" y="45.6" textLength="28.2" lengthAdjust="spacingAndGlyphs" stroke="#089981" stroke-width="0.25" fill="#089981">0.633</tspan> <tspan x="339.0" y="45.6" textLength="6.2" lengthAdjust="spacingAndGlyphs" stroke="#131722" stroke-width="0.25">C</tspan> <tspan x="346.4" y="45.6" textLength="28.7" lengthAdjust="spacingAndGlyphs" stroke="#089981" stroke-width="0.25" fill="#089981">0.696</tspan> <tspan x="383.7" y="45.6" textLength="34.1" lengthAdjust="spacingAndGlyphs" stroke="#089981" stroke-width="0.25" fill="#089981">+0.062</tspan> <tspan x="423.1" y="45.6" textLength="44.3" lengthAdjust="spacingAndGlyphs" stroke="#089981" stroke-width="0.25" fill="#089981">(+9.78%)</tspan></text>
<text x="1772.0" y="70.1" font-size="12" fill="#131722" textLength="29.3" lengthAdjust="spacingAndGlyphs" stroke="#131722" stroke-width="0.25">4.000</text>
<text x="1772.0" y="116.5" font-size="12" fill="#131722" textLength="29.3" lengthAdjust="spacingAndGlyphs" stroke="#131722" stroke-width="0.25">3.000</text>
<text x="1772.0" y="152.5" font-size="12" fill="#131722" textLength="29.3" lengthAdjust="spacingAndGlyphs" stroke="#131722" stroke-width="0.25">2.400</text>
<text x="1772.0" y="198.9" font-size="12" fill="#131722" textLength="29.3" lengthAdjust="spacingAndGlyphs" stroke="#131722" stroke-width="0.25">1.800</text>
<text x="1772.0" y="239.4" font-size="12" fill="#131722" textLength="29.3" lengthAdjust="spacingAndGlyphs" stroke="#131722" stroke-width="0.25">1.400</text>
<text x="1772.0" y="278.3" font-size="12" fill="#131722" textLength="29.3" lengthAdjust="spacingAndGlyphs" stroke="#131722" stroke-width="0.25">1.100</text>
<text x="1772.0" y="310.7" font-size="12" fill="#131722" textLength="29.3" lengthAdjust="spacingAndGlyphs" stroke="#131722" stroke-width="0.25">0.900</text>
<text x="1772.0" y="390.1" font-size="12" fill="#131722" textLength="29.3" lengthAdjust="spacingAndGlyphs" stroke="#131722" stroke-width="0.25">0.550</text>
<text x="1772.0" y="422.5" font-size="12" fill="#131722" textLength="29.3" lengthAdjust="spacingAndGlyphs" stroke="#131722" stroke-width="0.25">0.450</text>
<text x="1772.0" y="454.1" font-size="12" fill="#131722" textLength="29.3" lengthAdjust="spacingAndGlyphs" stroke="#131722" stroke-width="0.25">0.370</text>
<text x="1772.0" y="493.4" font-size="12" fill="#131722" textLength="29.3" lengthAdjust="spacingAndGlyphs" stroke="#131722" stroke-width="0.25">0.290</text>
<text x="1772.0" y="523.9" font-size="12" fill="#131722" textLength="29.3" lengthAdjust="spacingAndGlyphs" stroke="#131722" stroke-width="0.25">0.240</text>
<text x="1772.0" y="557.4" font-size="12" fill="#131722" textLength="29.3" lengthAdjust="spacingAndGlyphs" stroke="#131722" stroke-width="0.25">0.195</text>
<rect x="1767.5" y="31.5" width="45" height="25" rx="4" fill="#fff" stroke="#eef0f3" stroke-width="1"/>
<text x="1776.5" y="49.1" font-size="12" fill="#131722" textLength="27.3" lengthAdjust="spacingAndGlyphs" stroke="#131722" stroke-width="0.25">USDT</text>
<rect x="1764" y="340" width="49" height="31" rx="2" fill="#089981"/>
<text x="1771.8" y="352.4" font-size="12" fill="#fff" textLength="28.8" lengthAdjust="spacingAndGlyphs" font-weight="bold">0.696</text>
<text x="1771.8" y="366.7" font-size="12" fill="#dff7f1" textLength="35.2" lengthAdjust="spacingAndGlyphs" font-weight="bold">6d 20h</text>
<g shape-rendering="crispEdges" fill="#e9eaee"><rect x="10" y="572" width="1807" height="1"/><rect x="10" y="675" width="1807" height="1"/></g>
<rect x="10" y="605.5" width="1753" height="58.8" fill="#f3f9fe"/>
<g clip-path="url(#cpRsi)">
<path d="M9.5 605.5 L9.5 595.3 L17.5 594.8 L22.5 605.5 Z" fill="url(#gob)"/>
<path d="M33.4 605.5 L40.5 593.0 L47.5 586.7 L55.5 582.9 L63.5 577.1 L70.5 584.3 L78.5 581.6 L85.5 584.1 L93.5 595.8 L101.5 580.8 L108.5 579.5 L116.5 596.6 L124.5 590.8 L131.5 599.1 L134.0 605.5 Z" fill="url(#gob)"/>
<path d="M839.4 605.5 L839.5 604.8 L847.5 598.2 L854.5 603.1 L862.5 603.3 L869.5 587.7 L877.5 602.6 L879.5 605.5 Z" fill="url(#gob)"/>
<path d="M1151.9 605.5 L1159.5 596.0 L1166.5 593.0 L1174.5 582.6 L1182.5 580.3 L1189.5 577.5 L1197.5 588.1 L1204.5 600.2 L1212.5 599.4 L1220.5 599.9 L1227.5 589.1 L1235.5 578.2 L1242.5 583.0 L1250.5 578.6 L1258.5 584.5 L1265.5 594.1 L1273.5 584.2 L1281.5 585.2 L1288.5 599.9 L1291.0 605.5 Z" fill="url(#gob)"/>
<path d="M565.9 664.3 L573.5 665.7 L576.9 664.3 Z" fill="url(#gos)"/>
<path d="M732.0 664.3 L732.5 664.8 L737.5 664.3 Z" fill="url(#gos)"/>
</g>
<line x1="10" y1="605.5" x2="1763" y2="605.5" stroke="#787b86" stroke-width="1" stroke-dasharray="5.5 5.5"/>
<line x1="10" y1="634.5" x2="1763" y2="634.5" stroke="#b9bcc4" stroke-width="1" stroke-dasharray="5.5 5.5"/>
<line x1="10" y1="664.4" x2="1763" y2="664.4" stroke="#787b86" stroke-width="1" stroke-dasharray="5.5 5.5"/>
<path d="M9.5 595.3 L17.5 594.8 L25.5 611.8 L32.5 607.1 L40.5 593.0 L47.5 586.7 L55.5 582.9 L63.5 577.1 L70.5 584.3 L78.5 581.6 L85.5 584.1 L93.5 595.8 L101.5 580.8 L108.5 579.5 L116.5 596.6 L124.5 590.8 L131.5 599.1 L139.5 619.2 L146.5 639.0 L154.5 637.3 L162.5 636.3 L169.5 639.5 L177.5 642.4 L184.5 645.7 L192.5 639.1 L200.5 623.5 L207.5 634.4 L215.5 629.7 L222.5 629.5 L230.5 627.0 L238.5 623.5 L245.5 622.5 L253.5 621.8 L261.5 616.3 L268.5 626.5 L276.5 627.5 L283.5 633.6 L291.5 630.4 L299.5 611.8 L306.5 608.8 L314.5 608.4 L321.5 622.5 L329.5 614.5 L337.5 612.0 L344.5 618.1 L352.5 625.9 L360.5 622.2 L367.5 621.0 L375.5 623.1 L382.5 616.3 L390.5 614.9 L398.5 627.4 L405.5 625.5 L413.5 643.8 L420.5 642.8 L428.5 637.4 L436.5 643.3 L443.5 648.1 L451.5 650.6 L458.5 651.5 L466.5 646.1 L474.5 645.1 L481.5 638.4 L489.5 635.7 L497.5 644.7 L504.5 647.1 L512.5 647.5 L519.5 652.0 L527.5 656.2 L535.5 660.0 L542.5 661.3 L550.5 661.9 L557.5 661.3 L565.5 664.2 L573.5 665.7 L580.5 662.9 L588.5 663.4 L595.5 661.8 L603.5 662.5 L611.5 658.7 L618.5 658.5 L626.5 654.4 L634.5 654.4 L641.5 658.8 L649.5 660.7 L656.5 659.1 L664.5 656.9 L672.5 660.2 L679.5 660.2 L687.5 660.8 L694.5 658.1 L702.5 660.4 L710.5 659.5 L717.5 658.0 L725.5 657.9 L732.5 664.8 L740.5 664.0 L748.5 661.4 L755.5 659.6 L763.5 654.0 L771.5 658.3 L778.5 658.8 L786.5 660.3 L793.5 657.5 L801.5 649.4 L809.5 648.5 L816.5 645.3 L824.5 644.6 L831.5 645.1 L839.5 604.8 L847.5 598.2 L854.5 603.1 L862.5 603.3 L869.5 587.7 L877.5 602.6 L885.5 614.1 L892.5 613.6 L900.5 615.5 L908.5 627.6 L915.5 626.9 L923.5 626.0 L930.5 634.1 L938.5 633.4 L946.5 634.2 L953.5 635.5 L961.5 641.9 L968.5 640.0 L976.5 625.7 L984.5 628.5 L991.5 633.7 L999.5 634.4 L1006.5 634.9 L1014.5 637.6 L1022.5 639.3 L1029.5 638.7 L1037.5 647.6 L1045.5 649.4 L1052.5 650.7 L1060.5 650.9 L1067.5 650.1 L1075.5 648.3 L1083.5 640.6 L1090.5 642.2 L1098.5 640.8 L1105.5 624.5 L1113.5 624.1 L1121.5 622.7 L1128.5 619.2 L1136.5 624.6 L1144.5 618.7 L1151.5 606.0 L1159.5 596.0 L1166.5 593.0 L1174.5 582.6 L1182.5 580.3 L1189.5 577.5 L1197.5 588.1 L1204.5 600.2 L1212.5 599.4 L1220.5 599.9 L1227.5 589.1 L1235.5 578.2 L1242.5 583.0 L1250.5 578.6 L1258.5 584.5 L1265.5 594.1 L1273.5 584.2 L1281.5 585.2 L1288.5 599.9 L1296.5 618.0 L1303.5 616.9 L1311.5 625.8 L1319.5 630.4 L1326.5 637.9 L1334.5 638.7 L1341.5 637.9 L1349.5 641.8 L1357.5 629.8 L1364.5 638.9 L1372.5 645.1 L1379.5 641.7 L1387.5 649.7 L1395.5 639.3 L1402.5 634.5 L1410.5 636.0 L1418.5 646.4 L1425.5 645.8 L1433.5 644.7 L1440.5 634.5 L1448.5 642.8 L1456.5 643.1 L1463.5 639.7 L1471.5 635.1 L1478.5 629.7 L1486.5 632.9 L1494.5 635.7 L1501.5 630.7 L1509.5 635.6 L1516.5 642.1 L1524.5 633.3 L1532.5 631.9 L1539.5 627.1 L1547.5 619.9 L1555.5 613.7 L1562.5 622.0 L1570.5 640.3 L1577.5 641.6 L1585.5 637.0 L1593.5 642.2 L1600.5 644.1 L1608.5 645.8 L1615.5 651.2 L1623.5 653.6 L1631.5 652.6 L1638.5 653.0 L1646.5 653.7 L1653.5 658.8 L1661.5 658.9 L1669.5 658.3 L1676.5 658.9 L1684.5 660.6 L1692.5 656.7 L1699.5 655.5 L1707.5 652.4" fill="none" stroke="#3b6fe0" stroke-width="1.05" stroke-linejoin="round" clip-path="url(#cpRsi)"/>
<text x="18.4" y="591.8" font-size="12" fill="#131722" textLength="75.3" lengthAdjust="spacingAndGlyphs" stroke="#131722" stroke-width="0.25" id="rsil">RSI (14, close)</text>
<text x="102.5" y="591.8" font-size="12" fill="#3b6fe0" textLength="27.9" lengthAdjust="spacingAndGlyphs" stroke="#3b6fe0" stroke-width="0.25">37.53</text>
<text x="139.4" y="591.6" font-size="11.5" fill="#131722" textLength="7.2" lengthAdjust="spacingAndGlyphs" stroke="#131722" stroke-width="0.25">∅</text>
<text x="154.5" y="591.6" font-size="11.5" fill="#131722" textLength="7.2" lengthAdjust="spacingAndGlyphs" stroke="#131722" stroke-width="0.25">∅</text>
<text x="169.6" y="591.6" font-size="11.5" fill="#131722" textLength="7.2" lengthAdjust="spacingAndGlyphs" stroke="#131722" stroke-width="0.25">∅</text>
<text x="184.7" y="591.6" font-size="11.5" fill="#131722" textLength="7.2" lengthAdjust="spacingAndGlyphs" stroke="#131722" stroke-width="0.25">∅</text>
<text x="1772.4" y="602.3" font-size="12" fill="#131722" textLength="29.0" lengthAdjust="spacingAndGlyphs" stroke="#131722" stroke-width="0.25" clip-path="url(#cpRsiAx)">75.00</text>
<text x="1772.4" y="639.1" font-size="12" fill="#131722" textLength="29.0" lengthAdjust="spacingAndGlyphs" stroke="#131722" stroke-width="0.25" clip-path="url(#cpRsiAx)">50.00</text>
<text x="1772.4" y="675.8" font-size="12" fill="#131722" textLength="29.0" lengthAdjust="spacingAndGlyphs" stroke="#131722" stroke-width="0.25" clip-path="url(#cpRsiAx)">25.00</text>
<rect x="1764" y="645" width="43" height="17" rx="1" fill="#2962ff"/>
<text x="1772.0" y="657.2" font-size="12" fill="#fff" textLength="29.2" lengthAdjust="spacingAndGlyphs" font-weight="bold">37.53</text>
<g shape-rendering="crispEdges" clip-path="url(#cpMacd)">
<rect x="10" y="731" width="3" height="4" fill="#66bb6a"/>
<rect x="14" y="731" width="7" height="4" fill="#c8e6c9"/>
<rect x="22" y="732" width="6" height="3" fill="#c8e6c9"/>
<rect x="29" y="732" width="7" height="3" fill="#c8e6c9"/>
<rect x="37" y="731" width="6" height="4" fill="#66bb6a"/>
<rect x="44" y="731" width="7" height="4" fill="#66bb6a"/>
<rect x="52" y="730" width="7" height="5" fill="#66bb6a"/>
<rect x="60" y="728" width="6" height="7" fill="#66bb6a"/>
<rect x="67" y="728" width="7" height="7" fill="#66bb6a"/>
<rect x="75" y="727" width="6" height="8" fill="#66bb6a"/>
<rect x="82" y="728" width="7" height="7" fill="#c8e6c9"/>
<rect x="90" y="729" width="7" height="6" fill="#c8e6c9"/>
<rect x="98" y="726" width="6" height="9" fill="#66bb6a"/>
<rect x="105" y="725" width="7" height="10" fill="#66bb6a"/>
<rect x="113" y="726" width="7" height="9" fill="#c8e6c9"/>
<rect x="121" y="725" width="6" height="10" fill="#66bb6a"/>
<rect x="128" y="726" width="7" height="9" fill="#c8e6c9"/>
<rect x="136" y="730" width="6" height="5" fill="#c8e6c9"/>
<rect x="143" y="734" width="7" height="2" fill="#f23645"/>
<rect x="151" y="734" width="7" height="6" fill="#f23645"/>
<rect x="159" y="734" width="6" height="8" fill="#f23645"/>
<rect x="166" y="734" width="7" height="9" fill="#f23645"/>
<rect x="174" y="734" width="6" height="11" fill="#f23645"/>
<rect x="181" y="734" width="7" height="12" fill="#f23645"/>
<rect x="189" y="734" width="7" height="11" fill="#fccbcd"/>
<rect x="197" y="734" width="6" height="8" fill="#fccbcd"/>
<rect x="204" y="734" width="7" height="7" fill="#fccbcd"/>
<rect x="212" y="734" width="6" height="5" fill="#fccbcd"/>
<rect x="219" y="734" width="7" height="4" fill="#fccbcd"/>
<rect x="227" y="734" width="7" height="3" fill="#fccbcd"/>
<rect x="235" y="734" width="6" height="1" fill="#fccbcd"/>
<rect x="242" y="734" width="7" height="1" fill="#66bb6a"/>
<rect x="250" y="734" width="7" height="1" fill="#66bb6a"/>
<rect x="258" y="732" width="6" height="3" fill="#66bb6a"/>
<rect x="265" y="733" width="7" height="2" fill="#c8e6c9"/>
<rect x="273" y="734" width="6" height="1" fill="#c8e6c9"/>
<rect x="280" y="734" width="7" height="1" fill="#f23645"/>
<rect x="288" y="734" width="7" height="2" fill="#f23645"/>
<rect x="296" y="732" width="6" height="3" fill="#66bb6a"/>
<rect x="303" y="730" width="7" height="5" fill="#66bb6a"/>
<rect x="311" y="728" width="6" height="7" fill="#66bb6a"/>
<rect x="318" y="730" width="7" height="5" fill="#c8e6c9"/>
<rect x="326" y="729" width="7" height="6" fill="#66bb6a"/>
<rect x="334" y="728" width="6" height="7" fill="#66bb6a"/>
<rect x="341" y="729" width="7" height="6" fill="#c8e6c9"/>
<rect x="349" y="732" width="7" height="3" fill="#c8e6c9"/>
<rect x="357" y="733" width="6" height="2" fill="#c8e6c9"/>
<rect x="364" y="733" width="7" height="2" fill="#c8e6c9"/>
<rect x="372" y="734" width="6" height="1" fill="#c8e6c9"/>
<rect x="379" y="734" width="7" height="1" fill="#66bb6a"/>
<rect x="387" y="733" width="7" height="2" fill="#66bb6a"/>
<rect x="395" y="734" width="6" height="1" fill="#f23645"/>
<rect x="402" y="734" width="7" height="2" fill="#f23645"/>
<rect x="410" y="734" width="6" height="6" fill="#f23645"/>
<rect x="417" y="734" width="7" height="8" fill="#f23645"/>
<rect x="425" y="734" width="7" height="9" fill="#f23645"/>
<rect x="433" y="734" width="6" height="10" fill="#f23645"/>
<rect x="440" y="734" width="7" height="11" fill="#f23645"/>
<rect x="448" y="734" width="6" height="12" fill="#f23645"/>
<rect x="455" y="734" width="7" height="12" fill="#f23645"/>
<rect x="463" y="734" width="7" height="11" fill="#fccbcd"/>
<rect x="471" y="734" width="6" height="10" fill="#fccbcd"/>
<rect x="478" y="734" width="7" height="7" fill="#fccbcd"/>
<rect x="486" y="734" width="7" height="5" fill="#fccbcd"/>
<rect x="494" y="734" width="6" height="5" fill="#fccbcd"/>
<rect x="501" y="734" width="7" height="5" fill="#f23645"/>
<rect x="509" y="734" width="6" height="5" fill="#fccbcd"/>
<rect x="516" y="734" width="7" height="5" fill="#f23645"/>
<rect x="524" y="734" width="7" height="6" fill="#f23645"/>
<rect x="532" y="734" width="6" height="7" fill="#f23645"/>
<rect x="539" y="734" width="7" height="8" fill="#f23645"/>
<rect x="547" y="734" width="6" height="8" fill="#fccbcd"/>
<rect x="554" y="734" width="7" height="7" fill="#fccbcd"/>
<rect x="562" y="734" width="7" height="7" fill="#fccbcd"/>
<rect x="570" y="734" width="6" height="7" fill="#fccbcd"/>
<rect x="577" y="734" width="7" height="6" fill="#fccbcd"/>
<rect x="585" y="734" width="6" height="5" fill="#fccbcd"/>
<rect x="592" y="734" width="7" height="3" fill="#fccbcd"/>
<rect x="600" y="734" width="7" height="2" fill="#fccbcd"/>
<rect x="608" y="734" width="6" height="1" fill="#fccbcd"/>
<rect x="615" y="734" width="7" height="1" fill="#66bb6a"/>
<rect x="623" y="733" width="7" height="2" fill="#66bb6a"/>
<rect x="631" y="732" width="6" height="3" fill="#66bb6a"/>
<rect x="638" y="732" width="7" height="3" fill="#66bb6a"/>
<rect x="646" y="732" width="6" height="3" fill="#c8e6c9"/>
<rect x="653" y="732" width="7" height="3" fill="#66bb6a"/>
<rect x="661" y="732" width="7" height="3" fill="#66bb6a"/>
<rect x="669" y="732" width="6" height="3" fill="#c8e6c9"/>
<rect x="676" y="732" width="7" height="3" fill="#c8e6c9"/>
<rect x="684" y="732" width="6" height="3" fill="#c8e6c9"/>
<rect x="691" y="732" width="7" height="3" fill="#66bb6a"/>
<rect x="699" y="732" width="7" height="3" fill="#c8e6c9"/>
<rect x="707" y="732" width="6" height="3" fill="#66bb6a"/>
<rect x="714" y="732" width="7" height="3" fill="#66bb6a"/>
<rect x="722" y="732" width="6" height="3" fill="#66bb6a"/>
<rect x="729" y="732" width="7" height="3" fill="#c8e6c9"/>
<rect x="737" y="733" width="7" height="2" fill="#c8e6c9"/>
<rect x="745" y="733" width="6" height="2" fill="#c8e6c9"/>
<rect x="752" y="733" width="7" height="2" fill="#66bb6a"/>
<rect x="760" y="732" width="7" height="3" fill="#66bb6a"/>
<rect x="768" y="732" width="6" height="3" fill="#c8e6c9"/>
<rect x="775" y="733" width="7" height="2" fill="#c8e6c9"/>
<rect x="783" y="733" width="6" height="2" fill="#c8e6c9"/>
<rect x="790" y="733" width="7" height="2" fill="#c8e6c9"/>
<rect x="798" y="732" width="7" height="3" fill="#66bb6a"/>
<rect x="806" y="732" width="6" height="3" fill="#66bb6a"/>
<rect x="813" y="732" width="7" height="3" fill="#66bb6a"/>
<rect x="821" y="732" width="6" height="3" fill="#66bb6a"/>
<rect x="828" y="732" width="7" height="3" fill="#c8e6c9"/>
<rect x="836" y="730" width="7" height="5" fill="#66bb6a"/>
<rect x="844" y="729" width="6" height="6" fill="#66bb6a"/>
<rect x="851" y="728" width="7" height="7" fill="#66bb6a"/>
<rect x="859" y="728" width="6" height="7" fill="#66bb6a"/>
<rect x="866" y="726" width="7" height="9" fill="#66bb6a"/>
<rect x="874" y="726" width="7" height="9" fill="#c8e6c9"/>
<rect x="882" y="727" width="6" height="8" fill="#c8e6c9"/>
<rect x="889" y="728" width="7" height="7" fill="#c8e6c9"/>
<rect x="897" y="730" width="7" height="5" fill="#c8e6c9"/>
<rect x="905" y="731" width="6" height="4" fill="#c8e6c9"/>
<rect x="912" y="733" width="7" height="2" fill="#c8e6c9"/>
<rect x="920" y="734" width="6" height="1" fill="#c8e6c9"/>
<rect x="927" y="734" width="7" height="1" fill="#f23645"/>
<rect x="935" y="734" width="7" height="2" fill="#f23645"/>
<rect x="943" y="734" width="6" height="2" fill="#f23645"/>
<rect x="950" y="734" width="7" height="3" fill="#f23645"/>
<rect x="958" y="734" width="6" height="3" fill="#f23645"/>
<rect x="965" y="734" width="7" height="3" fill="#f23645"/>
<rect x="973" y="734" width="7" height="3" fill="#fccbcd"/>
<rect x="981" y="734" width="6" height="2" fill="#fccbcd"/>
<rect x="988" y="734" width="7" height="2" fill="#fccbcd"/>
<rect x="996" y="734" width="6" height="2" fill="#fccbcd"/>
<rect x="1003" y="734" width="7" height="2" fill="#fccbcd"/>
<rect x="1011" y="734" width="7" height="2" fill="#f23645"/>
<rect x="1019" y="734" width="6" height="2" fill="#f23645"/>
<rect x="1026" y="734" width="7" height="2" fill="#fccbcd"/>
<rect x="1034" y="734" width="7" height="3" fill="#f23645"/>
<rect x="1042" y="734" width="6" height="3" fill="#f23645"/>
<rect x="1049" y="734" width="7" height="3" fill="#f23645"/>
<rect x="1057" y="734" width="6" height="3" fill="#fccbcd"/>
<rect x="1064" y="734" width="7" height="3" fill="#fccbcd"/>
<rect x="1072" y="734" width="7" height="2" fill="#fccbcd"/>
<rect x="1080" y="734" width="6" height="2" fill="#fccbcd"/>
<rect x="1087" y="734" width="7" height="1" fill="#fccbcd"/>
<rect x="1095" y="734" width="6" height="1" fill="#fccbcd"/>
<rect x="1102" y="734" width="7" height="1" fill="#66bb6a"/>
<rect x="1110" y="734" width="7" height="1" fill="#66bb6a"/>
<rect x="1118" y="733" width="6" height="2" fill="#66bb6a"/>
<rect x="1125" y="733" width="7" height="2" fill="#66bb6a"/>
<rect x="1133" y="733" width="7" height="2" fill="#c8e6c9"/>
<rect x="1141" y="733" width="6" height="2" fill="#66bb6a"/>
<rect x="1148" y="732" width="7" height="3" fill="#66bb6a"/>
<rect x="1156" y="731" width="6" height="4" fill="#66bb6a"/>
<rect x="1163" y="730" width="7" height="5" fill="#66bb6a"/>
<rect x="1171" y="728" width="7" height="7" fill="#66bb6a"/>
<rect x="1179" y="726" width="6" height="9" fill="#66bb6a"/>
<rect x="1186" y="725" width="7" height="10" fill="#66bb6a"/>
<rect x="1194" y="725" width="6" height="10" fill="#c8e6c9"/>
<rect x="1201" y="727" width="7" height="8" fill="#c8e6c9"/>
<rect x="1209" y="728" width="7" height="7" fill="#c8e6c9"/>
<rect x="1217" y="729" width="6" height="6" fill="#c8e6c9"/>
<rect x="1224" y="728" width="7" height="7" fill="#66bb6a"/>
<rect x="1232" y="724" width="6" height="11" fill="#66bb6a"/>
<rect x="1239" y="723" width="7" height="12" fill="#66bb6a"/>
<rect x="1247" y="720" width="7" height="15" fill="#66bb6a"/>
<rect x="1255" y="720" width="6" height="15" fill="#66bb6a"/>
<rect x="1262" y="722" width="7" height="13" fill="#c8e6c9"/>
<rect x="1270" y="719" width="7" height="16" fill="#66bb6a"/>
<rect x="1278" y="719" width="6" height="16" fill="#66bb6a"/>
<rect x="1285" y="722" width="7" height="13" fill="#c8e6c9"/>
<rect x="1293" y="728" width="6" height="7" fill="#c8e6c9"/>
<rect x="1300" y="732" width="7" height="3" fill="#c8e6c9"/>
<rect x="1308" y="734" width="7" height="2" fill="#f23645"/>
<rect x="1316" y="734" width="6" height="7" fill="#f23645"/>
<rect x="1323" y="734" width="7" height="11" fill="#f23645"/>
<rect x="1331" y="734" width="6" height="14" fill="#f23645"/>
<rect x="1338" y="734" width="7" height="15" fill="#f23645"/>
<rect x="1346" y="734" width="7" height="16" fill="#f23645"/>
<rect x="1354" y="734" width="6" height="14" fill="#fccbcd"/>
<rect x="1361" y="734" width="7" height="14" fill="#f23645"/>
<rect x="1369" y="734" width="6" height="15" fill="#f23645"/>
<rect x="1376" y="734" width="7" height="15" fill="#fccbcd"/>
<rect x="1384" y="734" width="7" height="16" fill="#f23645"/>
<rect x="1392" y="734" width="6" height="14" fill="#fccbcd"/>
<rect x="1399" y="734" width="7" height="11" fill="#fccbcd"/>
<rect x="1407" y="734" width="7" height="9" fill="#fccbcd"/>
<rect x="1415" y="734" width="6" height="10" fill="#f23645"/>
<rect x="1422" y="734" width="7" height="10" fill="#f23645"/>
<rect x="1430" y="734" width="6" height="9" fill="#fccbcd"/>
<rect x="1437" y="734" width="7" height="6" fill="#fccbcd"/>
<rect x="1445" y="734" width="7" height="6" fill="#fccbcd"/>
<rect x="1453" y="734" width="6" height="6" fill="#fccbcd"/>
<rect x="1460" y="734" width="7" height="4" fill="#fccbcd"/>
<rect x="1468" y="734" width="6" height="2" fill="#fccbcd"/>
<rect x="1475" y="734" width="7" height="1" fill="#66bb6a"/>
<rect x="1483" y="733" width="7" height="2" fill="#66bb6a"/>
<rect x="1491" y="733" width="6" height="2" fill="#66bb6a"/>
<rect x="1498" y="732" width="7" height="3" fill="#66bb6a"/>
<rect x="1506" y="732" width="6" height="3" fill="#c8e6c9"/>
<rect x="1513" y="734" width="7" height="1" fill="#c8e6c9"/>
<rect x="1521" y="733" width="7" height="2" fill="#66bb6a"/>
<rect x="1529" y="732" width="6" height="3" fill="#66bb6a"/>
<rect x="1536" y="731" width="7" height="4" fill="#66bb6a"/>
<rect x="1544" y="729" width="7" height="6" fill="#66bb6a"/>
<rect x="1552" y="726" width="6" height="9" fill="#66bb6a"/>
<rect x="1559" y="726" width="7" height="9" fill="#c8e6c9"/>
<rect x="1567" y="730" width="6" height="5" fill="#c8e6c9"/>
<rect x="1574" y="734" width="7" height="1" fill="#c8e6c9"/>
<rect x="1582" y="734" width="7" height="1" fill="#f23645"/>
<rect x="1590" y="734" width="6" height="3" fill="#f23645"/>
<rect x="1597" y="734" width="7" height="5" fill="#f23645"/>
<rect x="1605" y="734" width="6" height="6" fill="#f23645"/>
<rect x="1612" y="734" width="7" height="8" fill="#f23645"/>
<rect x="1620" y="734" width="7" height="10" fill="#f23645"/>
<rect x="1628" y="734" width="6" height="10" fill="#f23645"/>
<rect x="1635" y="734" width="7" height="10" fill="#fccbcd"/>
<rect x="1643" y="734" width="6" height="9" fill="#fccbcd"/>
<rect x="1650" y="734" width="7" height="10" fill="#f23645"/>
<rect x="1658" y="734" width="7" height="9" fill="#fccbcd"/>
<rect x="1666" y="734" width="6" height="8" fill="#fccbcd"/>
<rect x="1673" y="734" width="7" height="7" fill="#fccbcd"/>
<rect x="1681" y="734" width="7" height="7" fill="#fccbcd"/>
<rect x="1689" y="734" width="6" height="5" fill="#fccbcd"/>
<rect x="1696" y="734" width="7" height="4" fill="#fccbcd"/>
<rect x="1704" y="734" width="6" height="2" fill="#fccbcd"/>
</g>
<line x1="9.8" y1="734.5" x2="1763" y2="734.5" stroke="#9c9ea6" stroke-opacity="0.65" stroke-width="1" stroke-dasharray="5 6"/>
<g clip-path="url(#cpMacd)">
<circle cx="1707.5" cy="756.5" r="18" fill="#c7c7c7" stroke="#858585" stroke-width="1"/>
<path d="M9.5 727.8 L17.5 727.0 L25.5 727.0 L32.5 726.7 L40.5 725.3 L47.5 723.4 L55.5 721.2 L63.5 717.9 L70.5 715.8 L78.5 713.6 L85.5 712.2 L93.5 712.1 L101.5 707.5 L108.5 703.4 L116.5 702.2 L124.5 699.5 L131.5 698.7 L139.5 701.2 L146.5 707.4 L154.5 712.3 L162.5 716.2 L169.5 720.1 L177.5 724.0 L184.5 727.9 L192.5 729.8 L200.5 728.0 L207.5 729.1 L215.5 728.8 L222.5 728.6 L230.5 727.9 L238.5 726.6 L245.5 725.4 L253.5 724.4 L261.5 722.5 L268.5 722.8 L276.5 723.3 L283.5 724.9 L291.5 725.7 L299.5 721.7 L306.5 717.8 L314.5 714.7 L321.5 715.0 L329.5 713.1 L337.5 710.9 L344.5 710.7 L352.5 712.4 L360.5 712.9 L367.5 713.2 L375.5 714.1 L382.5 713.1 L390.5 712.3 L398.5 714.2 L405.5 715.4 L413.5 721.0 L420.5 725.2 L428.5 727.5 L436.5 730.9 L443.5 735.0 L451.5 738.9 L458.5 742.2 L466.5 743.8 L474.5 744.6 L481.5 744.0 L489.5 742.8 L497.5 743.8 L504.5 745.1 L512.5 746.1 L519.5 747.8 L527.5 750.1 L535.5 752.8 L542.5 755.1 L550.5 756.9 L557.5 758.0 L565.5 759.3 L573.5 760.4 L580.5 760.7 L588.5 760.8 L595.5 760.4 L603.5 759.9 L611.5 758.9 L618.5 757.8 L626.5 756.4 L634.5 755.0 L641.5 754.3 L649.5 753.8 L656.5 753.1 L664.5 752.2 L672.5 751.7 L679.5 751.1 L687.5 750.6 L694.5 749.8 L702.5 749.3 L710.5 748.6 L717.5 747.9 L725.5 747.2 L732.5 747.1 L740.5 746.9 L748.5 746.5 L755.5 745.9 L763.5 745.2 L771.5 744.7 L778.5 744.3 L786.5 744.0 L793.5 743.6 L801.5 742.8 L809.5 742.1 L816.5 741.3 L824.5 740.6 L831.5 740.0 L839.5 737.2 L847.5 734.1 L854.5 731.9 L862.5 730.2 L869.5 726.3 L877.5 724.3 L885.5 723.7 L892.5 723.3 L900.5 723.2 L908.5 724.3 L915.5 725.1 L923.5 725.8 L930.5 727.2 L938.5 728.2 L946.5 729.2 L953.5 730.1 L961.5 731.4 L968.5 732.3 L976.5 731.9 L984.5 731.8 L991.5 732.2 L999.5 732.6 L1006.5 732.9 L1014.5 733.4 L1022.5 733.9 L1029.5 734.2 L1037.5 735.2 L1045.5 736.0 L1052.5 736.7 L1060.5 737.3 L1067.5 737.7 L1075.5 737.9 L1083.5 737.6 L1090.5 737.5 L1098.5 737.3 L1105.5 736.4 L1113.5 735.6 L1121.5 734.9 L1128.5 734.1 L1136.5 733.7 L1144.5 733.1 L1151.5 731.8 L1159.5 729.7 L1166.5 727.7 L1174.5 724.0 L1182.5 720.5 L1189.5 716.8 L1197.5 714.8 L1204.5 714.2 L1212.5 713.8 L1220.5 713.8 L1227.5 711.5 L1235.5 704.7 L1242.5 700.2 L1250.5 694.0 L1258.5 690.3 L1265.5 689.1 L1273.5 682.7 L1281.5 678.5 L1288.5 678.1 L1296.5 682.2 L1303.5 685.5 L1311.5 690.8 L1319.5 696.6 L1326.5 703.6 L1334.5 709.7 L1341.5 714.6 L1349.5 719.7 L1357.5 720.8 L1364.5 724.3 L1372.5 729.2 L1379.5 732.2 L1387.5 737.3 L1395.5 738.5 L1402.5 737.9 L1410.5 737.9 L1418.5 741.3 L1425.5 743.8 L1433.5 745.3 L1440.5 743.7 L1448.5 744.9 L1456.5 745.9 L1463.5 745.6 L1471.5 744.1 L1478.5 741.3 L1486.5 739.8 L1494.5 739.4 L1501.5 737.6 L1509.5 737.5 L1516.5 739.1 L1524.5 738.0 L1532.5 736.8 L1539.5 734.6 L1547.5 730.6 L1555.5 725.4 L1562.5 723.3 L1570.5 727.0 L1577.5 730.5 L1585.5 732.0 L1593.5 734.8 L1600.5 737.7 L1608.5 740.5 L1615.5 744.5 L1623.5 748.4 L1631.5 751.1 L1638.5 753.1 L1646.5 754.7 L1653.5 757.4 L1661.5 759.3 L1669.5 760.4 L1676.5 761.2 L1684.5 761.9 L1692.5 761.7 L1699.5 761.0 L1707.5 759.8" fill="none" stroke="#4caf50" stroke-width="1.05" stroke-linejoin="round"/>
<path d="M9.5 731.2 L17.5 730.4 L25.5 729.7 L32.5 729.1 L40.5 728.3 L47.5 727.3 L55.5 726.1 L63.5 724.5 L70.5 722.7 L78.5 720.9 L85.5 719.2 L93.5 717.7 L101.5 715.7 L108.5 713.2 L116.5 711.0 L124.5 708.7 L131.5 706.7 L139.5 705.6 L146.5 706.0 L154.5 707.2 L162.5 709.0 L169.5 711.2 L177.5 713.8 L184.5 716.6 L192.5 719.2 L200.5 721.0 L207.5 722.6 L215.5 723.8 L222.5 724.8 L230.5 725.4 L238.5 725.6 L245.5 725.6 L253.5 725.4 L261.5 724.8 L268.5 724.4 L276.5 724.2 L283.5 724.3 L291.5 724.6 L299.5 724.0 L306.5 722.8 L314.5 721.2 L321.5 719.9 L329.5 718.6 L337.5 717.0 L344.5 715.8 L352.5 715.1 L360.5 714.6 L367.5 714.4 L375.5 714.3 L382.5 714.1 L390.5 713.7 L398.5 713.8 L405.5 714.1 L413.5 715.5 L420.5 717.4 L428.5 719.4 L436.5 721.7 L443.5 724.4 L451.5 727.3 L458.5 730.3 L466.5 733.0 L474.5 735.3 L481.5 737.0 L489.5 738.2 L497.5 739.3 L504.5 740.5 L512.5 741.6 L519.5 742.8 L527.5 744.3 L535.5 746.0 L542.5 747.8 L550.5 749.6 L557.5 751.3 L565.5 752.9 L573.5 754.4 L580.5 755.7 L588.5 756.7 L595.5 757.4 L603.5 757.9 L611.5 758.1 L618.5 758.1 L626.5 757.7 L634.5 757.2 L641.5 756.6 L649.5 756.0 L656.5 755.5 L664.5 754.8 L672.5 754.2 L679.5 753.6 L687.5 753.0 L694.5 752.3 L702.5 751.7 L710.5 751.1 L717.5 750.5 L725.5 749.8 L732.5 749.3 L740.5 748.8 L748.5 748.3 L755.5 747.8 L763.5 747.3 L771.5 746.8 L778.5 746.3 L786.5 745.9 L793.5 745.4 L801.5 744.9 L809.5 744.3 L816.5 743.7 L824.5 743.1 L831.5 742.5 L839.5 741.4 L847.5 740.0 L854.5 738.3 L862.5 736.7 L869.5 734.6 L877.5 732.6 L885.5 730.8 L892.5 729.3 L900.5 728.1 L908.5 727.3 L915.5 726.9 L923.5 726.7 L930.5 726.8 L938.5 727.1 L946.5 727.5 L953.5 728.0 L961.5 728.7 L968.5 729.4 L976.5 729.9 L984.5 730.3 L991.5 730.7 L999.5 731.1 L1006.5 731.4 L1014.5 731.8 L1022.5 732.2 L1029.5 732.6 L1037.5 733.1 L1045.5 733.7 L1052.5 734.3 L1060.5 734.9 L1067.5 735.5 L1075.5 735.9 L1083.5 736.3 L1090.5 736.5 L1098.5 736.7 L1105.5 736.6 L1113.5 736.4 L1121.5 736.1 L1128.5 735.7 L1136.5 735.3 L1144.5 734.9 L1151.5 734.3 L1159.5 733.3 L1166.5 732.2 L1174.5 730.6 L1182.5 728.6 L1189.5 726.2 L1197.5 723.9 L1204.5 722.0 L1212.5 720.3 L1220.5 719.0 L1227.5 717.5 L1235.5 715.0 L1242.5 712.0 L1250.5 708.4 L1258.5 704.8 L1265.5 701.7 L1273.5 697.9 L1281.5 694.0 L1288.5 690.8 L1296.5 689.1 L1303.5 688.4 L1311.5 688.9 L1319.5 690.4 L1326.5 693.0 L1334.5 696.4 L1341.5 700.0 L1349.5 704.0 L1357.5 707.3 L1364.5 710.7 L1372.5 714.4 L1379.5 718.0 L1387.5 721.8 L1395.5 725.2 L1402.5 727.7 L1410.5 729.8 L1418.5 732.1 L1425.5 734.4 L1433.5 736.6 L1440.5 738.0 L1448.5 739.4 L1456.5 740.7 L1463.5 741.7 L1471.5 742.2 L1478.5 742.0 L1486.5 741.6 L1494.5 741.1 L1501.5 740.4 L1509.5 739.8 L1516.5 739.7 L1524.5 739.3 L1532.5 738.8 L1539.5 738.0 L1547.5 736.5 L1555.5 734.3 L1562.5 732.1 L1570.5 731.1 L1577.5 731.0 L1585.5 731.2 L1593.5 731.9 L1600.5 733.1 L1608.5 734.6 L1615.5 736.5 L1623.5 738.9 L1631.5 741.3 L1638.5 743.7 L1646.5 745.9 L1653.5 748.2 L1661.5 750.4 L1669.5 752.4 L1676.5 754.2 L1684.5 755.7 L1692.5 756.9 L1699.5 757.7 L1707.5 758.1" fill="none" stroke="#f23645" stroke-width="1.05" stroke-linejoin="round"/>
</g>
<text x="17.8" y="694.6" font-size="12" fill="#131722" textLength="185.2" lengthAdjust="spacingAndGlyphs" stroke="#131722" stroke-width="0.25" id="macdl">MACD (12, 26, close, 9, EMA, EMA)</text>
<text x="211.3" y="694.6" font-size="12" fill="#fccbcd" textLength="34.7" lengthAdjust="spacingAndGlyphs" stroke="#fccbcd" stroke-width="0.25">−0.021</text>
<text x="254.3" y="694.6" font-size="12" fill="#4caf50" textLength="34.8" lengthAdjust="spacingAndGlyphs" stroke="#4caf50" stroke-width="0.25">−0.309</text>
<text x="297.5" y="694.6" font-size="12" fill="#f23645" textLength="34.8" lengthAdjust="spacingAndGlyphs" stroke="#f23645" stroke-width="0.25">−0.289</text>
<text x="1772.0" y="696.9" font-size="12" fill="#131722" textLength="29.4" lengthAdjust="spacingAndGlyphs" stroke="#131722" stroke-width="0.25">0.500</text>
<g clip-path="url(#cpMacd)">
<rect x="1764" y="728" width="49" height="17" fill="#fccbcd"/>
<text x="1772.6" y="740.4" font-size="12" fill="#131722" textLength="34.4" lengthAdjust="spacingAndGlyphs" stroke="#131722" stroke-width="0.25">−0.021</text>
<rect x="1764" y="767" width="49" height="17" fill="#4caf50"/>
<text x="1772.6" y="779.4" font-size="12" fill="#fff" textLength="34.4" lengthAdjust="spacingAndGlyphs" font-weight="bold">−0.309</text>
<rect x="1764" y="750" width="49" height="16.5" rx="1" fill="#f23645"/>
<text x="1772.6" y="762.4" font-size="12" fill="#fff" textLength="34.4" lengthAdjust="spacingAndGlyphs" font-weight="bold">−0.289</text>
</g>
<text x="52.9" y="790.8" font-size="12" fill="#131722" textLength="19.8" lengthAdjust="spacingAndGlyphs" stroke="#131722" stroke-width="0.25">Mar</text>
<text x="120.8" y="790.8" font-size="12" fill="#131722" textLength="21.0" lengthAdjust="spacingAndGlyphs" stroke="#131722" stroke-width="0.25">May</text>
<text x="192.1" y="790.8" font-size="12" fill="#131722" textLength="15.5" lengthAdjust="spacingAndGlyphs" stroke="#131722" stroke-width="0.25">Jul</text>
<text x="258.9" y="790.8" font-size="12" fill="#131722" textLength="18.9" lengthAdjust="spacingAndGlyphs" stroke="#131722" stroke-width="0.25">Sep</text>
<text x="319.3" y="790.8" font-size="12" fill="#131722" textLength="19.8" lengthAdjust="spacingAndGlyphs" stroke="#131722" stroke-width="0.25">Nov</text>
<text x="384.2" y="790.8" font-size="12" fill="#131722" textLength="27.1" lengthAdjust="spacingAndGlyphs" font-weight="bold">2022</text>
<text x="456.3" y="790.8" font-size="12" fill="#131722" textLength="19.8" lengthAdjust="spacingAndGlyphs" stroke="#131722" stroke-width="0.25">Mar</text>
<text x="516.6" y="790.8" font-size="12" fill="#131722" textLength="21.0" lengthAdjust="spacingAndGlyphs" stroke="#131722" stroke-width="0.25">May</text>
<text x="587.9" y="790.8" font-size="12" fill="#131722" textLength="15.5" lengthAdjust="spacingAndGlyphs" stroke="#131722" stroke-width="0.25">Jul</text>
<text x="654.7" y="790.8" font-size="12" fill="#131722" textLength="18.9" lengthAdjust="spacingAndGlyphs" stroke="#131722" stroke-width="0.25">Sep</text>
<text x="722.7" y="790.8" font-size="12" fill="#131722" textLength="19.8" lengthAdjust="spacingAndGlyphs" stroke="#131722" stroke-width="0.25">Nov</text>
<text x="780.0" y="790.8" font-size="12" fill="#131722" textLength="27.1" lengthAdjust="spacingAndGlyphs" font-weight="bold">2023</text>
<text x="852.1" y="790.8" font-size="12" fill="#131722" textLength="19.8" lengthAdjust="spacingAndGlyphs" stroke="#131722" stroke-width="0.25">Mar</text>
<text x="912.4" y="790.8" font-size="12" fill="#131722" textLength="21.0" lengthAdjust="spacingAndGlyphs" stroke="#131722" stroke-width="0.25">May</text>
<text x="983.7" y="790.8" font-size="12" fill="#131722" textLength="15.5" lengthAdjust="spacingAndGlyphs" stroke="#131722" stroke-width="0.25">Jul</text>
<text x="1050.5" y="790.8" font-size="12" fill="#131722" textLength="18.9" lengthAdjust="spacingAndGlyphs" stroke="#131722" stroke-width="0.25">Sep</text>
<text x="1118.5" y="790.8" font-size="12" fill="#131722" textLength="19.8" lengthAdjust="spacingAndGlyphs" stroke="#131722" stroke-width="0.25">Nov</text>
<text x="1175.8" y="790.8" font-size="12" fill="#131722" textLength="27.1" lengthAdjust="spacingAndGlyphs" font-weight="bold">2024</text>
<text x="1247.9" y="790.8" font-size="12" fill="#131722" textLength="19.8" lengthAdjust="spacingAndGlyphs" stroke="#131722" stroke-width="0.25">Mar</text>
<text x="1315.8" y="790.8" font-size="12" fill="#131722" textLength="21.0" lengthAdjust="spacingAndGlyphs" stroke="#131722" stroke-width="0.25">May</text>
<text x="1379.5" y="790.8" font-size="12" fill="#131722" textLength="15.5" lengthAdjust="spacingAndGlyphs" stroke="#131722" stroke-width="0.25">Jul</text>
<text x="1446.3" y="790.8" font-size="12" fill="#131722" textLength="18.9" lengthAdjust="spacingAndGlyphs" stroke="#131722" stroke-width="0.25">Sep</text>
<text x="1514.3" y="790.8" font-size="12" fill="#131722" textLength="19.8" lengthAdjust="spacingAndGlyphs" stroke="#131722" stroke-width="0.25">Nov</text>
<text x="1579.2" y="790.8" font-size="12" fill="#131722" textLength="27.1" lengthAdjust="spacingAndGlyphs" font-weight="bold">2025</text>
<text x="1643.7" y="790.8" font-size="12" fill="#131722" textLength="19.8" lengthAdjust="spacingAndGlyphs" stroke="#131722" stroke-width="0.25">Mar</text>
<text x="1711.6" y="790.8" font-size="12" fill="#131722" textLength="21.0" lengthAdjust="spacingAndGlyphs" stroke="#131722" stroke-width="0.25">May</text>
<g fill="#16181d"><path d="M9.85 813.2 H18.05 V822.7 H13.45 V816.8 H9.85 Z"/><circle cx="21.15" cy="814.9" r="1.9"/><path d="M24.6 813.2 H29.2 L25.9 822.7 H21 Z"/></g>
<text x="33.3" y="822.7" font-size="12.6" fill="#16181d" textLength="69.8" lengthAdjust="spacingAndGlyphs" stroke="#16181d" stroke-width="0.25" id="tvt">TradingView</text>
</svg>
</body></html>
